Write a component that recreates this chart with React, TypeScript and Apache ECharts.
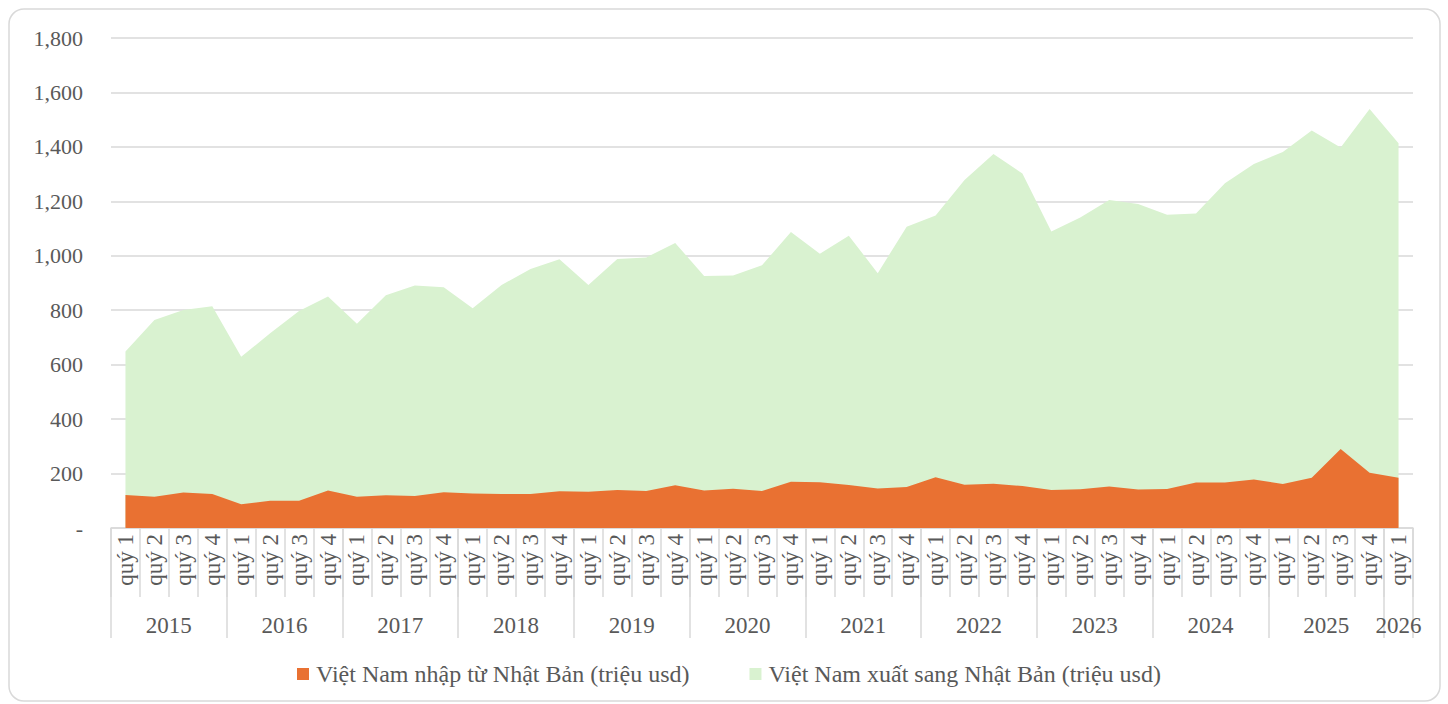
import React, { useEffect, useRef } from "react";
import * as echarts from "echarts";

const years = ["2015", "2016", "2017", "2018", "2019", "2020", "2021", "2022", "2023", "2024", "2025", "2026"];
const quartersPerYear = [4, 4, 4, 4, 4, 4, 4, 4, 4, 4, 4, 1];
const quarterNames = ["quý 1", "quý 2", "quý 3", "quý 4"];

const exportsToJapan = [
  648, 764, 801, 815,
  629, 715, 797, 850,
  750, 855, 891, 884,
  807, 893, 951, 987,
  893, 988, 994, 1047,
  926, 928, 965, 1087,
  1007, 1074, 936, 1107,
  1148, 1278, 1374, 1302,
  1089, 1141, 1205, 1190,
  1151, 1155, 1266, 1337,
  1381, 1460, 1398, 1539,
  1413,
];

const importsFromJapan = [
  121, 115, 130, 125,
  87, 100, 100, 138,
  115, 120, 118, 131,
  127, 125, 125, 135,
  133, 140, 136, 157,
  138, 144, 136, 170,
  168, 158, 145, 151,
  186, 159, 163, 154,
  140, 142, 152, 141,
  143, 167, 167, 178,
  162, 185, 290, 203,
  185,
];

const importName = "Việt Nam nhập từ Nhật Bản (triệu usd)";
const exportName = "Việt Nam xuất sang Nhật Bản (triệu usd)";

const FONT = "'Liberation Serif', 'Times New Roman', serif";
const TEXT = "#595959";
const GRID = "#d9d9d9";

export default function App() {
  const ref = useRef<HTMLDivElement>(null);

  useEffect(() => {
    if (!ref.current) return;
    const chart = echarts.init(ref.current, null, { renderer: "svg" });

    const categories: string[] = [];
    const boundaries: number[] = [0];
    const centers: number[] = [];
    let acc = 0;
    quartersPerYear.forEach((n) => {
      for (let q = 0; q < n; q++) categories.push(quarterNames[q]);
      centers.push(acc + n / 2);
      acc += n;
      boundaries.push(acc);
    });
    const total = acc;

    chart.setOption({
      animation: false,
      graphic: [
        {
          type: "rect",
          shape: { x: 9, y: 9, width: 1431, height: 692, r: 15 },
          style: { fill: "none", stroke: GRID, lineWidth: 1.5 },
          silent: true,
        },
      ],
      grid: { left: 111, right: 35, top: 38, bottom: 176 },
      legend: {
        bottom: 13,
        left: 292,
        icon: "rect",
        itemWidth: 12,
        itemHeight: 12,
        itemGap: 60,
        data: [importName, exportName],
        textStyle: { fontFamily: FONT, fontSize: 24, color: TEXT, padding: [0, 0, 0, 2] },
      },
      xAxis: [
        {
          type: "category",
          data: categories,
          position: "bottom",
          boundaryGap: true,
          axisLine: { show: true, lineStyle: { color: GRID, width: 1.5 } },
          axisTick: { show: true, interval: 0, length: 69, lineStyle: { color: GRID, width: 1.5 } },
          axisLabel: {
            interval: 0,
            rotate: 90,
            margin: 6,
            fontFamily: FONT,
            fontSize: 23,
            color: TEXT,
          },
          splitLine: { show: false },
        },
        {
          type: "value",
          min: 0,
          max: total,
          position: "bottom",
          axisLine: { show: false },
          splitLine: { show: false },
          axisTick: {
            show: true,
            customValues: boundaries,
            length: 110,
            lineStyle: { color: GRID, width: 1.5 },
          },
          axisLabel: {
            customValues: centers,
            margin: 86,
            fontFamily: FONT,
            fontSize: 23,
            color: TEXT,
            formatter: (v: number) => {
              const idx = centers.findIndex((c) => Math.abs(c - v) < 1e-6);
              return idx >= 0 ? years[idx] : "";
            },
          },
        },
      ],
      yAxis: {
        type: "value",
        min: 0,
        max: 1800,
        interval: 200,
        axisLine: { show: false },
        axisTick: { show: false },
        splitLine: { lineStyle: { color: GRID, width: 1.5 } },
        axisLabel: {
          margin: 28,
          fontFamily: FONT,
          fontSize: 22,
          color: TEXT,
          formatter: (v: number) => (v === 0 ? "-" : v.toLocaleString("en-US")),
        },
      },
      series: [
        {
          name: exportName,
          type: "line",
          xAxisIndex: 0,
          data: exportsToJapan,
          showSymbol: false,
          symbol: "none",
          lineStyle: { width: 0 },
          areaStyle: { color: "#D9F2D0", opacity: 1 },
          itemStyle: { color: "#D9F2D0" },
          z: 2,
        },
        {
          name: importName,
          type: "line",
          xAxisIndex: 0,
          data: importsFromJapan,
          showSymbol: false,
          symbol: "none",
          lineStyle: { width: 0 },
          areaStyle: { color: "#E97132", opacity: 1 },
          itemStyle: { color: "#E97132" },
          z: 3,
        },
      ],
    });

    return () => chart.dispose();
  }, []);

  return (
    <div
      ref={ref}
      style={{ position: "absolute", left: 0, top: 0, width: 1448, height: 704, background: "#fff" }}
    />
  );
}
